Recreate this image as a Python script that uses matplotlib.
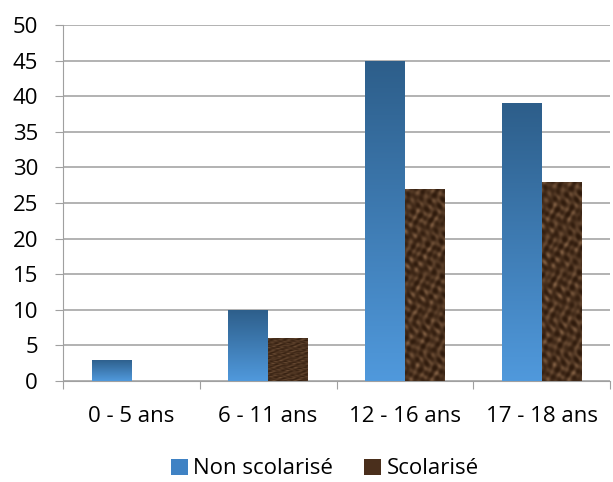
import numpy as np
import matplotlib.pyplot as plt
from matplotlib.patches import Patch

categories = ['0 - 5 ans', '6 - 11 ans', '12 - 16 ans', '17 - 18 ans']
non_scolarise = [3, 10, 45, 39]
scolarise = [0, 6, 27, 28]

plt.rcParams['font.family'] = ['Open Sans', 'DejaVu Sans']

fig = plt.figure(figsize=(6.13, 4.82), dpi=100)
ax = fig.add_axes([63 / 613, 101 / 482, 547 / 613, 356 / 482])

x = np.arange(len(categories))
w = 0.29
b1 = ax.bar(x - w / 2, non_scolarise, w, color='#3f7fbf', zorder=3)
b2 = ax.bar(x + w / 2, scolarise, w, color='#4a2f1c', zorder=3)

# blue gradient: dark on top, light at the bottom
grad = np.linspace(0, 1, 256).reshape(-1, 1)
blue = np.array([0x2d, 0x5e, 0x8a]) / 255
light = np.array([0x50, 0x99, 0xdc]) / 255
img_b = blue + (light - blue) * grad[..., None]
img_b = img_b.reshape(256, 1, 3)

# brown marble-like texture (deterministic pattern)
yy, xx = np.mgrid[0:300, 0:40]
t = (np.sin(xx * 0.53 + yy * 0.21) + np.sin(xx * 0.31 - yy * 0.47 + 1.3)
     + 0.8 * np.sin(xx * 0.9 + np.sin(yy * 0.13) * 3)
     + 0.6 * np.sin(yy * 0.37 + np.cos(xx * 0.41) * 2)) / 3.4
dark = np.array([0x2e, 0x1a, 0x0c]) / 255
lite = np.array([0x80, 0x5e, 0x42]) / 255
img_t = dark + (lite - dark) * np.clip((t + 1) / 2, 0, 1)[..., None] ** 1.6

for bars, img in ((b1, img_b), (b2, img_t)):
    for r in bars:
        h = r.get_height()
        if h <= 0:
            continue
        x0 = r.get_x()
        r.set_facecolor('none')
        im = ax.imshow(img, extent=[x0, x0 + r.get_width(), 0, h],
                       origin='upper', aspect='auto', zorder=3,
                       interpolation='bilinear')
        im.set_clip_path(r)

ax.set_xlim(-0.5, 3.5)
ax.set_ylim(0, 50)
ax.set_yticks(range(0, 51, 5))
ax.set_xticks(np.arange(-0.5, 4, 1), minor=False)
ax.set_xticklabels([])
ax.set_xticks(x, minor=True)
ax.set_xticklabels(categories, minor=True)
ax.tick_params(axis='x', which='minor', length=0, pad=18, labelsize=16)
ax.tick_params(axis='x', which='major', length=6, color='#a0a0a0')
ax.tick_params(axis='y', length=6, color='#a0a0a0', labelsize=16, pad=12)
ax.yaxis.grid(True, color='#a6a6a6', linewidth=1.2, zorder=0)
ax.set_axisbelow(True)
for s in ['top', 'right']:
    ax.spines[s].set_visible(False)
ax.spines['left'].set_color('#a0a0a0')
ax.spines['bottom'].set_color('#a0a0a0')

handles = [Patch(facecolor='#3f82c4', label='Non scolarisé'),
           Patch(facecolor='#4a2f1c', label='Scolarisé')]
fig.legend(handles=handles, loc='center', bbox_to_anchor=(325 / 613, 13 / 482),
           ncol=2, frameon=False, fontsize=16, handlelength=0.75,
           handleheight=0.75, handletextpad=0.25, columnspacing=1.4)

fig.savefig('out.png', dpi=100)
